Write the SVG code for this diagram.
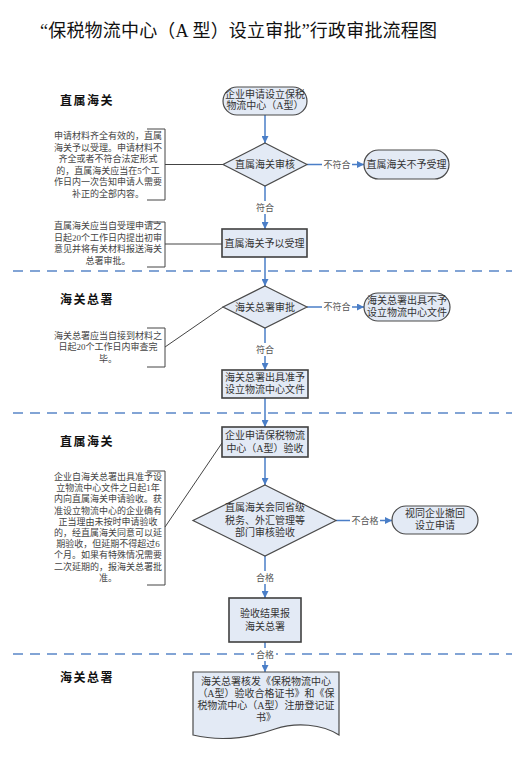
<svg xmlns="http://www.w3.org/2000/svg" width="527" height="760" viewBox="0 0 527 760">
<defs>
<marker id="arr" viewBox="0 0 10 10" refX="10" refY="5" markerWidth="7" markerHeight="7" markerUnits="userSpaceOnUse" orient="auto">
<path d="M0,0 L10,5 L0,10 Z" fill="#4A7EC7"/>
</marker>
<style>
.n{fill:#E3EAF5;stroke:#4a4a4a;stroke-width:1.2}
.b{fill:#E3EAF5;stroke:#404040;stroke-width:1.6}
.t{font-family:"Liberation Serif","Noto Sans CJK SC",serif;font-size:10px;fill:#333;text-anchor:middle}
.a{font-family:"Liberation Serif","Noto Sans CJK SC",serif;font-size:9px;fill:#444;text-anchor:middle}
.l{font-family:"Liberation Serif","Noto Sans CJK SC",serif;font-size:9px;fill:#555;text-anchor:middle}
.s{font-family:"Liberation Serif","Noto Sans CJK SC",serif;font-size:12px;font-weight:bold;fill:#111;letter-spacing:1.5px}
.c{fill:none;stroke:#4A7EC7;stroke-width:1.5}
.k{fill:none;stroke:#444;stroke-width:1}
.d{fill:none;stroke:#5A86C8;stroke-width:1.5;stroke-dasharray:10,7}
.w{fill:#fff}
</style>
</defs>
<rect width="527" height="760" fill="#fff"/>
<text x="40" y="37" font-family="Liberation Serif,'Noto Sans CJK SC',serif" font-size="18" fill="#111" textLength="397" lengthAdjust="spacing">“保税物流中心（A 型）设立审批”行政审批流程图</text>

<g id="lanes">
<line class="d" x1="13" y1="271" x2="512" y2="271"/>
<line class="d" x1="13" y1="413" x2="512" y2="413"/>
<line class="d" x1="13" y1="654" x2="512" y2="654"/>
<text class="s" x="60" y="105">直属海关</text>
<text class="s" x="60" y="304">海关总署</text>
<text class="s" x="60" y="446">直属海关</text>
<text class="s" x="60" y="682">海关总署</text>
</g>

<g id="connectors">
<line class="c" x1="265" y1="115" x2="265" y2="143" marker-end="url(#arr)"/>
<line class="c" x1="307" y1="164.5" x2="364" y2="164.5" marker-end="url(#arr)"/>
<line class="c" x1="265" y1="186" x2="265" y2="229" marker-end="url(#arr)"/>
<line class="c" x1="265" y1="257" x2="265" y2="286" marker-end="url(#arr)"/>
<line class="c" x1="307" y1="307" x2="364" y2="307" marker-end="url(#arr)"/>
<line class="c" x1="265" y1="328" x2="265" y2="370" marker-end="url(#arr)"/>
<line class="c" x1="265" y1="398" x2="265" y2="427" marker-end="url(#arr)"/>
<line class="c" x1="265" y1="457" x2="265" y2="485" marker-end="url(#arr)"/>
<line class="c" x1="336" y1="520.5" x2="392" y2="520.5" marker-end="url(#arr)"/>
<line class="c" x1="265" y1="556" x2="265" y2="598" marker-end="url(#arr)"/>
<line class="c" x1="265" y1="642" x2="265" y2="672" marker-end="url(#arr)"/>
<rect class="w" x="322" y="158" width="30" height="13"/>
<text class="l" x="337" y="168">不符合</text>
<rect class="w" x="254" y="201" width="22" height="13"/>
<text class="l" x="265" y="211">符合</text>
<rect class="w" x="322" y="300" width="30" height="13"/>
<text class="l" x="337" y="310">不符合</text>
<rect class="w" x="254" y="343" width="22" height="13"/>
<text class="l" x="265" y="353">符合</text>
<rect class="w" x="350" y="514" width="30" height="13"/>
<text class="l" x="365" y="524">不合格</text>
<rect class="w" x="254" y="571" width="22" height="13"/>
<text class="l" x="265" y="581">合格</text>
<rect class="w" x="254" y="648" width="22" height="13"/>
<text class="l" x="265" y="658">合格</text>
<line class="k" x1="165" y1="164.5" x2="223" y2="164.5"/>
<line class="k" x1="165" y1="244" x2="222" y2="244"/>
<line class="k" x1="165" y1="347" x2="223" y2="307"/>
<line class="k" x1="165" y1="527" x2="222" y2="443"/>
</g>

<g id="start">
<rect class="n" x="223" y="87" width="84" height="28" rx="14"/>
<text class="t" x="265" y="98">企业申请设立保税</text>
<text class="t" x="265" y="109">物流中心（A型）</text>
</g>
<g id="check1">
<polygon class="n" points="265,143 307,164.5 265,186 223,164.5"/>
<text class="t" x="265" y="168">直属海关审核</text>
</g>
<g id="reject1">
<rect class="n" x="364" y="150" width="85" height="29" rx="14.5"/>
<text class="t" x="406.5" y="168">直属海关不予受理</text>
</g>
<g id="accept1">
<rect class="b" x="222" y="229" width="85" height="28"/>
<text class="t" x="264.5" y="247">直属海关予以受理</text>
</g>
<g id="check2">
<polygon class="n" points="265,286 307,307 265,328 223,307"/>
<text class="t" x="265" y="310.5">海关总署审批</text>
</g>
<g id="reject2">
<rect class="n" x="364" y="293" width="86" height="28" rx="14"/>
<text class="t" x="407" y="304">海关总署出具不予</text>
<text class="t" x="407" y="315.5">设立物流中心文件</text>
</g>
<g id="approve2">
<rect class="b" x="222" y="370" width="86" height="28"/>
<text class="t" x="265" y="381">海关总署出具准予</text>
<text class="t" x="265" y="393">设立物流中心文件</text>
</g>
<g id="apply3">
<rect class="b" x="222" y="427" width="86" height="30"/>
<text class="t" x="265" y="439">企业申请保税物流</text>
<text class="t" x="265" y="452">中心（A型）验收</text>
</g>
<g id="check3">
<polygon class="n" points="265,485 336,520.5 265,556 193,520.5"/>
<text class="t" x="265" y="511">直属海关会同省级</text>
<text class="t" x="265" y="523.5">税务、外汇管理等</text>
<text class="t" x="265" y="536">部门审核验收</text>
</g>
<g id="reject3">
<rect class="n" x="392" y="506" width="86" height="28" rx="14"/>
<text class="t" x="435" y="517">视同企业撤回</text>
<text class="t" x="435" y="529">设立申请</text>
</g>
<g id="report3">
<rect class="b" x="229" y="598" width="72" height="44"/>
<text class="t" x="265" y="617">验收结果报</text>
<text class="t" x="265" y="630">海关总署</text>
</g>
<g id="cert4">
<path class="n" d="M193,672 H339 V735 C322,724 296,722 275,729 C252,737 222,742 193,735 Z"/>
<text class="t" x="266" y="685">海关总署核发《保税物流中心</text>
<text class="t" x="266" y="697">（A型）验收合格证书》和《保</text>
<text class="t" x="266" y="709">税物流中心（A型）注册登记证</text>
<text class="t" x="266" y="721">书》</text>
</g>

<g id="note1">
<path class="k" d="M147,129 H165 V200 H147"/>
<text class="a" x="108" y="139">申请材料齐全有效的，直属</text>
<text class="a" x="108" y="150.5">海关予以受理。申请材料不</text>
<text class="a" x="108" y="162">齐全或者不符合法定形式</text>
<text class="a" x="108" y="173.5">的，直属海关应当在5个工</text>
<text class="a" x="108" y="185">作日内一次告知申请人需要</text>
<text class="a" x="108" y="196.5">补正的全部内容。</text>
</g>
<g id="note2">
<path class="k" d="M147,222 H165 V267 H147"/>
<text class="a" x="108" y="229">直属海关应当自受理申请之</text>
<text class="a" x="108" y="240.5">日起20个工作日内提出初审</text>
<text class="a" x="108" y="252">意见并将有关材料报送海关</text>
<text class="a" x="108" y="263.5">总署审批。</text>
</g>
<g id="note3">
<path class="k" d="M147,328 H165 V367 H147"/>
<text class="a" x="108" y="338.5">海关总署应当自接到材料之</text>
<text class="a" x="108" y="350">日起20个工作日内审查完</text>
<text class="a" x="108" y="361.5">毕。</text>
</g>
<g id="note4">
<path class="k" d="M147,471 H165 V585 H147"/>
<text class="a" x="108" y="480">企业自海关总署出具准予设</text>
<text class="a" x="108" y="491.2">立物流中心文件之日起1年</text>
<text class="a" x="108" y="502.4">内向直属海关申请验收。获</text>
<text class="a" x="108" y="513.6">准设立物流中心的企业确有</text>
<text class="a" x="108" y="524.8">正当理由未按时申请验收</text>
<text class="a" x="108" y="536">的，经直属海关同意可以延</text>
<text class="a" x="108" y="547.2">期验收，但延期不得超过6</text>
<text class="a" x="108" y="558.4">个月。如果有特殊情况需要</text>
<text class="a" x="108" y="569.6">二次延期的，报海关总署批</text>
<text class="a" x="108" y="580.8">准。</text>
</g>
</svg>
